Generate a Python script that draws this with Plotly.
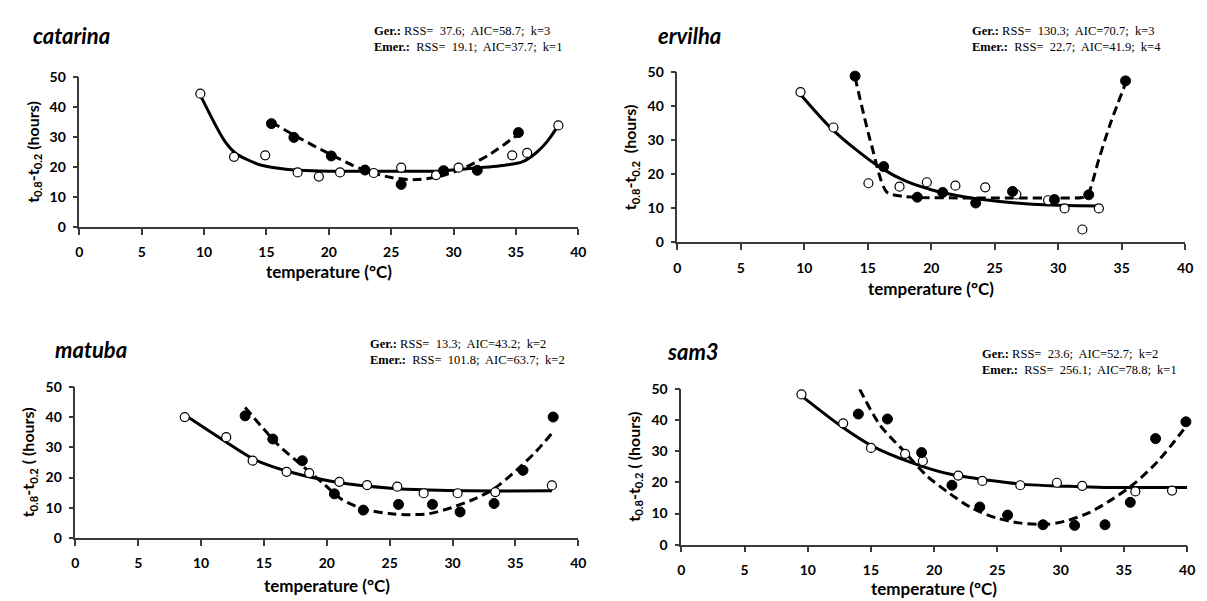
import plotly.graph_objects as go

# ---------------- data ----------------
panel_names = ["catarina", "ervilha", "matuba", "sam3"]

ger_text = [
    "<b>Ger.:</b> RSS=\u00a0 37.6;\u00a0 AIC=58.7;\u00a0 k=3",
    "<b>Ger.:</b> RSS=\u00a0 130.3;\u00a0 AIC=70.7;\u00a0 k=3",
    "<b>Ger.:</b> RSS=\u00a0 13.3;\u00a0 AIC=43.2;\u00a0 k=2",
    "<b>Ger.:</b> RSS=\u00a0 23.6;\u00a0 AIC=52.7;\u00a0 k=2",
]
emer_text = [
    "<b>Emer.:</b>\u00a0 RSS=\u00a0 19.1;\u00a0 AIC=37.7;\u00a0 k=1",
    "<b>Emer.:</b>\u00a0 RSS=\u00a0 22.7;\u00a0 AIC=41.9;\u00a0 k=4",
    "<b>Emer.:</b>\u00a0 RSS=\u00a0 101.8;\u00a0 AIC=63.7;\u00a0 k=2",
    "<b>Emer.:</b>\u00a0 RSS=\u00a0 256.1;\u00a0 AIC=78.8;\u00a0 k=1",
]
ytitles = [
    "t<sub>0.8</sub>-t<sub>0.2</sub> (hours)",
    "t<sub>0.8</sub>-t<sub>0.2</sub>\u00a0 (hours)",
    "t<sub>0.8</sub>-t<sub>0.2</sub> ( (hours)",
    "t<sub>0.8</sub>-t<sub>0.2</sub> ( (hours)",
]
xtitle = "temperature (°C)"
x_ticks = [0, 5, 10, 15, 20, 25, 30, 35, 40]
y_ticks = [0, 10, 20, 30, 40, 50]

# catarina
cat_ger_T = [9.7, 12.4, 14.9, 17.5, 19.2, 20.9, 23.6, 25.8, 28.6, 30.4, 34.7, 35.9, 38.4]
cat_ger_V = [44.5, 23.4, 23.9, 18.2, 16.8, 18.2, 18.0, 19.8, 17.3, 19.8, 23.9, 24.7, 33.9]
cat_em_T = [15.4, 17.2, 20.2, 22.9, 25.8, 29.2, 31.9, 35.2]
cat_em_V = [34.5, 29.9, 23.7, 19.0, 14.2, 18.8, 18.9, 31.5]
cat_gfit_T = [9.7, 11.6, 12.5, 13.4, 14.6, 15.8, 17.7, 20, 25, 29, 31.1, 34.1, 35.5, 36.6, 37.5, 38.4]
cat_gfit_V = [44.0, 29.0, 24.7, 22.6, 20.6, 19.7, 18.9, 18.6, 18.6, 18.7, 19.4, 20.6, 21.7, 24.7, 28.5, 33.9]
cat_efit_T = [15.4, 17.5, 20, 22.5, 25, 27, 29, 31, 33, 35.2]
cat_efit_V = [35.0, 30.0, 24.5, 19.5, 16.5, 15.8, 17.0, 20.0, 24.5, 31.0]

# ervilha
erv_ger_T = [9.7, 12.3, 15.05, 17.5, 19.65, 21.9, 24.25, 26.7, 29.2, 30.5, 31.9, 33.2]
erv_ger_V = [44.2, 33.8, 17.4, 16.4, 17.7, 16.7, 16.2, 14.1, 12.4, 10.0, 3.8, 10.0]
erv_em_T = [14.0, 16.25, 18.9, 20.9, 23.5, 26.4, 29.7, 32.4, 35.3]
erv_em_V = [48.9, 22.3, 13.3, 14.7, 11.6, 15.0, 12.6, 14.0, 47.5]
erv_gfit_T = [9.7, 12, 14, 16, 18, 20, 22, 24, 26, 28, 30, 33.2]
erv_gfit_V = [43.5, 34.0, 27.5, 22.0, 18.0, 15.5, 13.8, 12.6, 11.8, 11.2, 10.9, 10.7]
erv_efit_T = [14.0, 15.3, 16.5, 17.7, 19, 22, 26, 30, 31.9, 32.3, 33.2, 34.1, 35.3]
erv_efit_V = [48.5, 28.5, 14.8, 13.6, 13.2, 13.1, 13.1, 13.1, 13.2, 13.9, 24.5, 34.9, 46.8]

# matuba
mat_ger_T = [8.7, 12.0, 14.1, 16.8, 18.6, 21.0, 23.2, 25.6, 27.7, 30.4, 33.4, 37.9]
mat_ger_V = [40.1, 33.4, 25.6, 21.9, 21.5, 18.6, 17.5, 17.0, 14.8, 14.8, 15.2, 17.4]
mat_em_T = [13.5, 15.7, 18.05, 20.6, 22.9, 25.7, 28.4, 30.6, 33.3, 35.6, 38.0]
mat_em_V = [40.5, 32.8, 25.6, 14.6, 9.2, 11.1, 11.1, 8.6, 11.4, 22.4, 40.1]
mat_gfit_T = [8.8, 11.8, 14.25, 17.3, 20.9, 25.1, 28.1, 31.2, 37.9]
mat_gfit_V = [40.5, 32.3, 26.0, 21.6, 18.4, 16.5, 15.9, 15.6, 15.6]
mat_efit_T = [13.5, 16.1, 18.2, 19.7, 21.2, 23.0, 25.1, 26.6, 28.1, 29.9, 31.8, 33.3, 35.1, 36.6, 37.9]
mat_efit_V = [43.3, 31.0, 23.4, 18.1, 12.7, 9.5, 8.0, 7.7, 8.0, 10.0, 13.0, 16.3, 22.5, 28.5, 34.7]

# sam3
sam_ger_T = [9.5, 12.8, 15.0, 17.7, 19.1, 21.9, 23.8, 26.8, 29.7, 31.7, 35.9, 38.8]
sam_ger_V = [48.3, 39.0, 31.1, 29.2, 26.9, 22.2, 20.5, 19.1, 19.9, 18.9, 17.1, 17.4]
sam_em_T = [14.0, 16.3, 19.0, 21.4, 23.6, 25.8, 28.6, 31.1, 33.5, 35.5, 37.5, 39.9]
sam_em_V = [42.0, 40.4, 29.6, 19.1, 12.1, 9.5, 6.4, 6.2, 6.4, 13.6, 34.1, 39.5]
sam_gfit_T = [9.6, 12.7, 15.1, 18.2, 21.2, 24.3, 27.3, 30.3, 33.4, 40.0]
sam_gfit_V = [47.5, 37.9, 31.7, 26.4, 22.7, 20.7, 19.3, 18.8, 18.4, 18.4]
sam_efit_T = [14.1, 15.7, 17.6, 19.4, 21.2, 23.0, 24.9, 26.7, 28.8, 30.3, 32.2, 34.0, 35.8, 37.7, 40.0]
sam_efit_V = [50.0, 38.5, 30.1, 22.2, 16.5, 11.7, 8.6, 7.0, 6.5, 7.5, 10.2, 14.4, 19.6, 26.9, 38.5]

panels = [
    (cat_ger_T, cat_ger_V, cat_em_T, cat_em_V, cat_gfit_T, cat_gfit_V, cat_efit_T, cat_efit_V),
    (erv_ger_T, erv_ger_V, erv_em_T, erv_em_V, erv_gfit_T, erv_gfit_V, erv_efit_T, erv_efit_V),
    (mat_ger_T, mat_ger_V, mat_em_T, mat_em_V, mat_gfit_T, mat_gfit_V, mat_efit_T, mat_efit_V),
    (sam_ger_T, sam_ger_V, sam_em_T, sam_em_V, sam_gfit_T, sam_gfit_V, sam_efit_T, sam_efit_V),
]

# ---------------- layout (pixels) ----------------
W, H = 1207, 601
# (x0, x40, y50, y0) in pixels
boxes = [(68, 572, 62, 216), (672, 1185, 57, 232), (64, 572, 381, 536), (676, 1187, 383, 543)]
title_pos = [(19, 19), (650, 19), (41, 342), (660, 344)]
ann_pos = [(364, 14, 31), (968, 14, 31), (360, 337, 353), (978, 347, 363)]
xtitle_gap = [46, 47, 49, 45]

def px(x):
    return x / W

def py(y):
    return 1 - y / H

fig = go.Figure()
axis_color = "#3a3a3a"
tick_font = dict(family="Lato", size=14, color="black", weight="bold")

for i, (gT, gV, eT, eV, gfT, gfV, efT, efV) in enumerate(panels):
    xa = "x" if i == 0 else f"x{i+1}"
    ya = "y" if i == 0 else f"y{i+1}"
    fig.add_trace(go.Scatter(x=gfT, y=gfV, mode="lines", line=dict(color="black", width=3, shape="spline", smoothing=0.8),
                             xaxis=xa, yaxis=ya, showlegend=False, cliponaxis=False))
    fig.add_trace(go.Scatter(x=efT, y=efV, mode="lines", line=dict(color="black", width=3, dash="9px,5px", shape="spline", smoothing=0.8),
                             xaxis=xa, yaxis=ya, showlegend=False, cliponaxis=False))
    fig.add_trace(go.Scatter(x=gT, y=gV, mode="markers",
                             marker=dict(symbol="circle", size=9, color="white", line=dict(color="black", width=1.2)),
                             xaxis=xa, yaxis=ya, showlegend=False, cliponaxis=False))
    fig.add_trace(go.Scatter(x=eT, y=eV, mode="markers",
                             marker=dict(symbol="circle", size=10, color="black", line=dict(color="black", width=1)),
                             xaxis=xa, yaxis=ya, showlegend=False, cliponaxis=False))

    x0, x40, y50, y0 = boxes[i]
    xkey = "xaxis" if i == 0 else f"xaxis{i+1}"
    ykey = "yaxis" if i == 0 else f"yaxis{i+1}"
    fig.update_layout(**{
        xkey: dict(domain=[px(x0), px(x40)], range=[0, 40], tickvals=x_ticks, anchor=ya,
                   showline=True, linecolor=axis_color, linewidth=1.5, ticks="outside", ticklen=6,
                   tickwidth=1.5, tickcolor=axis_color, showgrid=False, zeroline=False,
                   tickfont=tick_font, ticklabelstandoff=6, fixedrange=True),
        ykey: dict(domain=[py(y0), py(y50)], range=[0, 50], tickvals=y_ticks, anchor=xa,
                   showline=True, linecolor=axis_color, linewidth=1.5, ticks="outside", ticklen=5,
                   tickwidth=1.5, tickcolor=axis_color, showgrid=False, zeroline=False,
                   tickfont=tick_font, ticklabelstandoff=4, fixedrange=True),
    })

    # panel title
    tx, ty = title_pos[i]
    fig.add_annotation(x=px(tx), y=py(ty), xref="paper", yref="paper", xanchor="left", yanchor="middle",
                       text=f"<b><i>{panel_names[i]}</i></b>", showarrow=False,
                       font=dict(family="Lato", size=22, color="black"))
    # stats
    ax, ay1, ay2 = ann_pos[i]
    fig.add_annotation(x=px(ax), y=py(ay1), xref="paper", yref="paper", xanchor="left", yanchor="middle",
                       text=ger_text[i], showarrow=False,
                       font=dict(family="Liberation Serif", size=12.5, color="black"))
    fig.add_annotation(x=px(ax), y=py(ay2), xref="paper", yref="paper", xanchor="left", yanchor="middle",
                       text=emer_text[i], showarrow=False,
                       font=dict(family="Liberation Serif", size=12.5, color="black"))
    # x-axis title
    fig.add_annotation(x=px((x0 + x40) / 2), y=py(y0 + xtitle_gap[i]), xref="paper", yref="paper",
                       xanchor="center", yanchor="middle", text=f"<b>{xtitle}</b>", showarrow=False,
                       font=dict(family="Lato", size=17, color="black"))
    # y-axis title
    fig.add_annotation(x=px(x0 - 47), y=py((y0 + y50) / 2), xref="paper", yref="paper",
                       xanchor="center", yanchor="middle", text=f"<b>{ytitles[i]}</b>", textangle=-90,
                       showarrow=False, font=dict(family="Lato", size=16, color="black"))

fig.update_layout(width=W, height=H, margin=dict(l=0, r=0, t=0, b=0),
                  paper_bgcolor="white", plot_bgcolor="white", showlegend=False)

fig.write_html("out.html")
